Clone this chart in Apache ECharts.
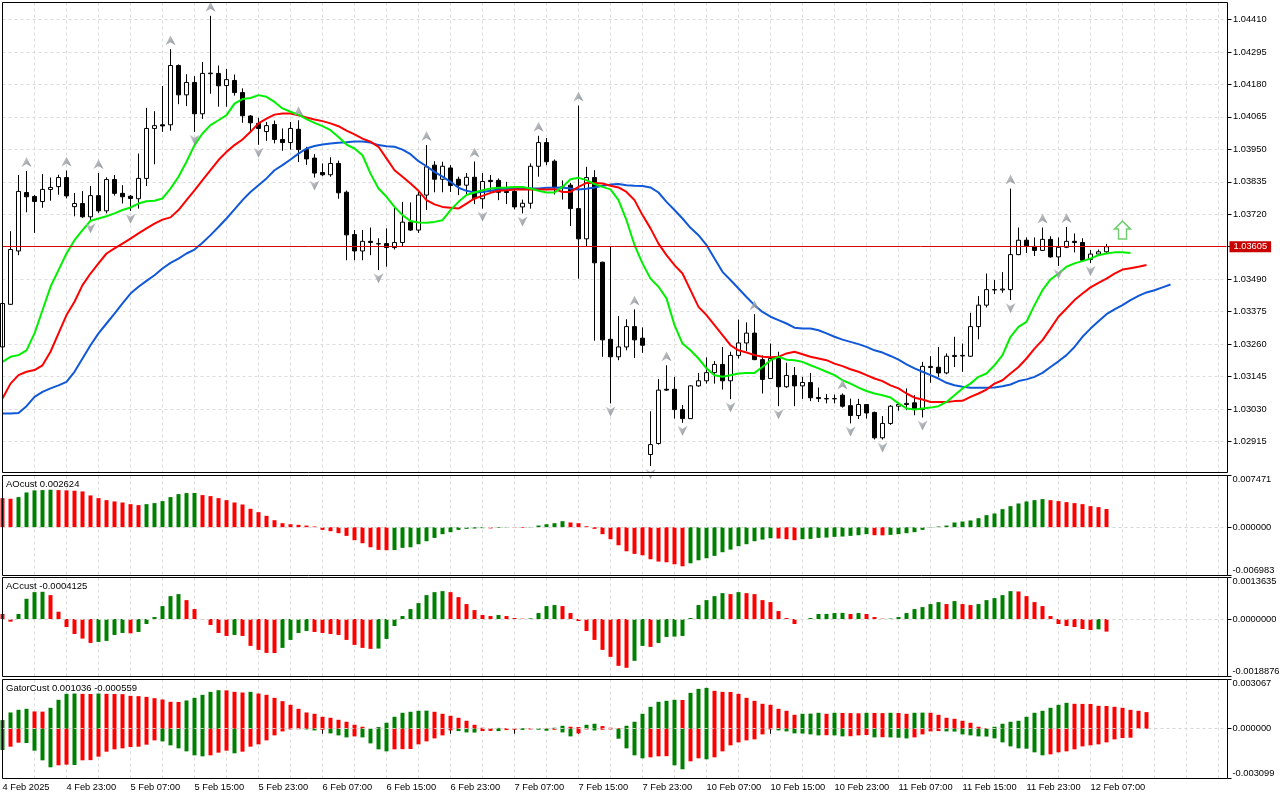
<!DOCTYPE html>
<html><head><meta charset="utf-8">
<script src="https://cdn.jsdelivr.net/npm/echarts@6.0.0/dist/echarts.min.js"></script>
<style>html,body{margin:0;padding:0;background:#fff;}#chart{width:1280px;height:800px;}</style>
</head><body><div id="chart"></div>
<script>
// ---------- data ----------
const timeLabels = ['4 Feb 2025','4 Feb 23:00','5 Feb 07:00','5 Feb 15:00','5 Feb 23:00','6 Feb 07:00','6 Feb 15:00','6 Feb 23:00','7 Feb 07:00','7 Feb 15:00','7 Feb 23:00','10 Feb 07:00','10 Feb 15:00','10 Feb 23:00','11 Feb 07:00','11 Feb 15:00','11 Feb 23:00','12 Feb 07:00'];
const slotCount = 154;   // bar slots on the time axis (incl. shifted indicator lines)
const labelEvery = 8;    // one time label every 8 hourly bars
const gridEvery = 4;     // one vertical grid line every 4 bars

const open = [1.03250,1.03401,1.03590,1.03797,1.03783,1.03765,1.03808,1.03818,1.03850,1.03747,
1.03758,1.03711,1.03786,1.03732,1.03843,1.03794,1.03784,1.03775,1.03847,1.04024,
1.04037,1.04037,1.04247,1.04143,1.04187,1.04076,1.04218,1.04219,1.04176,1.04194,
1.04151,1.04068,1.04042,1.04013,1.04038,1.03985,1.03974,1.04021,1.03949,1.03919,
1.03868,1.03860,1.03900,1.03798,1.03648,1.03590,1.03624,1.03615,1.03616,1.03602,
1.03620,1.03692,1.03664,1.03788,1.03894,1.03844,1.03884,1.03844,1.03823,1.03851,
1.03775,1.03840,1.03840,1.03801,1.03801,1.03746,1.03759,1.03890,1.03974,1.03908,
1.03817,1.03823,1.03740,1.03633,1.03850,1.03550,1.03277,1.03215,1.03250,1.03322,
1.03281,1.02869,1.02908,1.03100,1.03100,1.03028,1.02996,1.03112,1.03130,1.03159,
1.03188,1.03130,1.03220,1.03264,1.03299,1.03205,1.03138,1.03209,1.03109,1.03149,
1.03112,1.03124,1.03071,1.03067,1.03066,1.03079,1.03042,1.03007,1.03046,1.03018,
1.02928,1.02979,1.03040,1.03046,1.03052,1.03028,1.03177,1.03178,1.03158,1.03216,
1.03218,1.03217,1.03322,1.03398,1.03452,1.03452,1.03453,1.03577,1.03628,1.03606,
1.03592,1.03631,1.03569,1.03603,1.03624,1.03620,1.03560,1.03579,1.03587];
const high = [1.03410,1.03660,1.03859,1.03873,1.03788,1.03862,1.03850,1.03860,1.03875,1.03795,
1.03802,1.03820,1.03866,1.03851,1.03859,1.03823,1.03788,1.03935,1.04097,1.04085,
1.04174,1.04305,1.04251,1.04216,1.04209,1.04259,1.04423,1.04247,1.04235,1.04215,
1.04166,1.04071,1.04062,1.04047,1.04052,1.04024,1.04047,1.04053,1.03959,1.03933,
1.03900,1.03922,1.03910,1.03804,1.03664,1.03664,1.03673,1.03635,1.03670,1.03744,
1.03764,1.03762,1.03804,1.03965,1.03908,1.03906,1.03894,1.03853,1.03866,1.03907,
1.03866,1.03859,1.03847,1.03835,1.03817,1.03772,1.03900,1.03998,1.03990,1.03914,
1.03840,1.03831,1.04105,1.03888,1.03876,1.03552,1.03606,1.03359,1.03348,1.03383,
1.03319,1.03022,1.03136,1.03185,1.03144,1.03044,1.03114,1.03158,1.03213,1.03200,
1.03250,1.03233,1.03347,1.03337,1.03366,1.03220,1.03262,1.03233,1.03194,1.03179,
1.03144,1.03158,1.03106,1.03083,1.03081,1.03085,1.03067,1.03066,1.03047,1.03021,
1.03005,1.03044,1.03054,1.03103,1.03079,1.03197,1.03217,1.03250,1.03227,1.03286,
1.03262,1.03371,1.03430,1.03510,1.03487,1.03515,1.03811,1.03673,1.03638,1.03638,
1.03673,1.03642,1.03638,1.03675,1.03652,1.03635,1.03593,1.03595,1.03615];
const low = [1.03244,1.03399,1.03575,1.03727,1.03654,1.03743,1.03768,1.03789,1.03776,1.03713,
1.03707,1.03699,1.03725,1.03723,1.03786,1.03758,1.03732,1.03740,1.03820,1.03897,
1.04012,1.04016,1.04110,1.04103,1.04012,1.04058,1.04147,1.04101,1.04101,1.04140,
1.04044,1.04009,1.03966,1.03980,1.03971,1.03945,1.03949,1.03905,1.03895,1.03850,
1.03855,1.03853,1.03775,1.03557,1.03557,1.03557,1.03575,1.03522,1.03534,1.03595,
1.03607,1.03661,1.03654,1.03735,1.03798,1.03798,1.03799,1.03788,1.03790,1.03756,
1.03740,1.03798,1.03770,1.03756,1.03737,1.03723,1.03740,1.03853,1.03894,1.03790,
1.03772,1.03678,1.03492,1.03605,1.03272,1.03215,1.03050,1.03203,1.03238,1.03211,
1.03229,1.02828,1.02904,1.03094,1.02996,1.02981,1.02995,1.03109,1.03120,1.03120,
1.03099,1.03065,1.03209,1.03236,1.03203,1.03085,1.03137,1.03040,1.03105,1.03040,
1.03066,1.03058,1.03055,1.03050,1.03050,1.03035,1.02979,1.02995,1.02996,1.02922,
1.02922,1.02974,1.03024,1.03026,1.03008,1.03000,1.03123,1.03144,1.03153,1.03179,
1.03162,1.03215,1.03277,1.03390,1.03437,1.03442,1.03416,1.03575,1.03583,1.03572,
1.03590,1.03566,1.03537,1.03600,1.03585,1.03555,1.03547,1.03572,1.03583];
const close = [1.03404,1.03595,1.03801,1.03782,1.03765,1.03808,1.03815,1.03850,1.03785,1.03758,
1.03711,1.03786,1.03732,1.03843,1.03794,1.03782,1.03776,1.03847,1.04024,1.04034,
1.04033,1.04247,1.04143,1.04187,1.04076,1.04219,1.04220,1.04175,1.04197,1.04151,
1.04069,1.04044,1.04024,1.04034,1.03985,1.03974,1.04024,1.03949,1.03916,1.03866,
1.03860,1.03900,1.03796,1.03647,1.03590,1.03624,1.03620,1.03616,1.03602,1.03620,
1.03692,1.03664,1.03788,1.03888,1.03844,1.03890,1.03822,1.03823,1.03851,1.03775,
1.03836,1.03836,1.03798,1.03797,1.03746,1.03759,1.03890,1.03974,1.03906,1.03817,
1.03814,1.03740,1.03633,1.03850,1.03548,1.03275,1.03215,1.03250,1.03322,1.03275,
1.03256,1.02904,1.03097,1.03097,1.03028,1.02996,1.03112,1.03130,1.03159,1.03188,
1.03130,1.03220,1.03264,1.03299,1.03205,1.03135,1.03209,1.03109,1.03149,1.03112,
1.03124,1.03070,1.03067,1.03066,1.03067,1.03040,1.03007,1.03046,1.03016,1.02928,
1.02979,1.03040,1.03046,1.03050,1.03028,1.03181,1.03181,1.03158,1.03217,1.03220,
1.03220,1.03322,1.03398,1.03453,1.03453,1.03455,1.03577,1.03628,1.03608,1.03592,
1.03631,1.03569,1.03603,1.03624,1.03620,1.03557,1.03579,1.03587,1.03605];

const lips = [1.03197,1.03215,1.03221,1.03238,1.03298,1.03380,1.03463,1.03522,1.03581,1.03628,
1.03664,1.03697,1.03705,1.03713,1.03723,1.03735,1.03744,1.03758,1.03766,1.03768,
1.03776,1.03811,1.03853,1.03906,1.03965,1.04006,1.04036,1.04053,1.04071,1.04112,
1.04128,1.04132,1.04142,1.04136,1.04118,1.04095,1.04083,1.04073,1.04057,1.04044,
1.04032,1.04018,1.03994,1.03967,1.03953,1.03929,1.03864,1.03811,1.03782,1.03746,
1.03717,1.03696,1.03691,1.03690,1.03693,1.03699,1.03735,1.03764,1.03788,1.03797,
1.03805,1.03811,1.03814,1.03815,1.03817,1.03817,1.03811,1.03803,1.03797,1.03797,
1.03817,1.03844,1.03849,1.03841,1.03827,1.03817,1.03808,1.03770,1.03699,1.03611,
1.03546,1.03492,1.03463,1.03422,1.03327,1.03262,1.03238,1.03209,1.03174,1.03150,
1.03144,1.03150,1.03156,1.03158,1.03158,1.03179,1.03203,1.03215,1.03205,1.03203,
1.03197,1.03185,1.03174,1.03162,1.03150,1.03132,1.03120,1.03106,1.03094,1.03085,
1.03079,1.03071,1.03050,1.03032,1.03028,1.03032,1.03035,1.03040,1.03055,1.03079,
1.03103,1.03120,1.03144,1.03156,1.03185,1.03221,1.03286,1.03321,1.03339,1.03398,
1.03451,1.03489,1.03510,1.03534,1.03546,1.03554,1.03563,1.03575,1.03581,1.03585,
1.03585,1.03583];
const teeth = [1.03067,1.03120,1.03150,1.03162,1.03168,1.03185,1.03233,1.03298,1.03363,1.03410,
1.03469,1.03510,1.03546,1.03581,1.03599,1.03616,1.03634,1.03652,1.03670,1.03687,
1.03701,1.03709,1.03735,1.03770,1.03805,1.03841,1.03876,1.03912,1.03941,1.03965,
1.03985,1.04012,1.04042,1.04059,1.04073,1.04077,1.04077,1.04071,1.04063,1.04056,
1.04050,1.04042,1.04032,1.04016,1.04003,1.03988,1.03977,1.03959,1.03918,1.03876,
1.03853,1.03829,1.03803,1.03770,1.03755,1.03746,1.03743,1.03740,1.03758,1.03776,
1.03785,1.03796,1.03803,1.03805,1.03808,1.03808,1.03808,1.03808,1.03808,1.03809,
1.03799,1.03799,1.03817,1.03831,1.03831,1.03829,1.03821,1.03815,1.03799,1.03770,
1.03717,1.03670,1.03616,1.03575,1.03540,1.03510,1.03451,1.03392,1.03363,1.03327,
1.03292,1.03256,1.03238,1.03230,1.03221,1.03215,1.03213,1.03215,1.03227,1.03233,
1.03224,1.03215,1.03209,1.03203,1.03191,1.03182,1.03171,1.03162,1.03150,1.03138,
1.03129,1.03114,1.03103,1.03085,1.03070,1.03064,1.03055,1.03055,1.03055,1.03058,
1.03059,1.03073,1.03085,1.03099,1.03120,1.03132,1.03156,1.03179,1.03209,1.03244,
1.03274,1.03315,1.03357,1.03386,1.03416,1.03439,1.03461,1.03477,1.03492,1.03510,
1.03524,1.03529,1.03534,1.03540];
const jaw = [1.03014,1.03014,1.03016,1.03040,1.03073,1.03091,1.03103,1.03114,1.03126,1.03162,
1.03209,1.03256,1.03298,1.03333,1.03368,1.03404,1.03439,1.03463,1.03484,1.03504,
1.03528,1.03548,1.03563,1.03581,1.03595,1.03619,1.03646,1.03675,1.03705,1.03737,
1.03770,1.03799,1.03823,1.03847,1.03876,1.03894,1.03914,1.03935,1.03953,1.03962,
1.03967,1.03971,1.03973,1.03975,1.03978,1.03978,1.03974,1.03965,1.03961,1.03959,
1.03949,1.03933,1.03908,1.03890,1.03870,1.03853,1.03835,1.03814,1.03803,1.03797,
1.03799,1.03803,1.03808,1.03810,1.03811,1.03811,1.03811,1.03811,1.03814,1.03814,
1.03815,1.03811,1.03808,1.03810,1.03815,1.03821,1.03825,1.03827,1.03823,1.03821,
1.03820,1.03815,1.03797,1.03764,1.03735,1.03705,1.03672,1.03646,1.03611,1.03563,
1.03516,1.03487,1.03457,1.03427,1.03398,1.03374,1.03357,1.03345,1.03333,1.03318,
1.03315,1.03315,1.03309,1.03298,1.03286,1.03276,1.03268,1.03260,1.03250,1.03238,
1.03230,1.03218,1.03205,1.03188,1.03174,1.03162,1.03150,1.03138,1.03123,1.03114,
1.03109,1.03105,1.03105,1.03105,1.03106,1.03111,1.03117,1.03129,1.03135,1.03144,
1.03158,1.03179,1.03199,1.03221,1.03250,1.03286,1.03315,1.03341,1.03366,1.03383,
1.03398,1.03416,1.03431,1.03443,1.03451,1.03461,1.03471];

const fractalUp = [3,8,12,21,26,37,53,59,67,72,79,83,94,105,126,130,133];
const fractalDown = [11,16,24,32,39,47,60,65,76,81,85,91,97,106,110,115,126,132,136];
const signalUp = {index: 140, price: 1.03664};

const ao = [0.00420,0.00411,0.00435,0.00502,0.00532,0.00536,0.00541,0.00536,0.00532,0.00527,
0.00517,0.00459,0.00420,0.00391,0.00372,0.00357,0.00333,0.00319,0.00333,0.00348,
0.00377,0.00435,0.00478,0.00493,0.00495,0.00464,0.00449,0.00420,0.00391,0.00357,
0.00328,0.00266,0.00217,0.00164,0.00101,0.00058,0.00043,0.00034,0.00024,0.00010,
-0.00039,-0.00058,-0.00087,-0.00126,-0.00188,-0.00232,-0.00290,-0.00328,-0.00333,-0.00331,
-0.00299,-0.00290,-0.00246,-0.00203,-0.00155,-0.00101,-0.00072,-0.00039,-0.00024,-0.00019,
-0.00014,-0.00017,-0.00010,-0.00005,-0.00007,-0.00010,-0.00005,0.00024,0.00043,0.00058,
0.00087,0.00068,0.00058,0.00014,-0.00024,-0.00101,-0.00174,-0.00261,-0.00348,-0.00386,
-0.00406,-0.00464,-0.00497,-0.00507,-0.00536,-0.00565,-0.00522,-0.00478,-0.00449,-0.00415,
-0.00362,-0.00324,-0.00275,-0.00246,-0.00203,-0.00179,-0.00159,-0.00164,-0.00174,-0.00188,
-0.00174,-0.00169,-0.00155,-0.00150,-0.00140,-0.00135,-0.00126,-0.00116,-0.00101,-0.00116,
-0.00118,-0.00111,-0.00101,-0.00087,-0.00072,-0.00039,-0.00005,0.00010,0.00024,0.00068,
0.00082,0.00097,0.00130,0.00174,0.00198,0.00261,0.00304,0.00343,0.00372,0.00391,
0.00406,0.00391,0.00377,0.00362,0.00348,0.00333,0.00304,0.00290,0.002624];
const ac = [0.000164,-0.000087,0.000164,0.000665,0.000883,0.000894,0.000785,0.000240,-0.000262,-0.000491,
-0.000643,-0.000785,-0.000752,-0.000719,-0.000523,-0.000458,-0.000469,-0.000425,-0.000164,0.000065,
0.000425,0.000752,0.000818,0.000621,0.000327,-0.000011,-0.000196,-0.000458,-0.000556,-0.000523,
-0.000556,-0.000883,-0.001014,-0.001112,-0.001117,-0.000948,-0.000687,-0.000458,-0.000392,-0.000425,
-0.000458,-0.000491,-0.000523,-0.000687,-0.000850,-0.000948,-0.000981,-0.000970,-0.000654,-0.000229,
0.000098,0.000327,0.000523,0.000785,0.000883,0.000916,0.000883,0.000719,0.000491,0.000294,
0.000131,0.000098,0.000131,0.000098,0.000033,0.000011,0.000022,0.000196,0.000425,0.000458,
0.000425,0.000196,-0.000065,-0.000392,-0.000687,-0.001014,-0.001243,-0.001537,-0.001602,-0.001373,
-0.000883,-0.000916,-0.000785,-0.000589,-0.000578,-0.000556,0.000033,0.000458,0.000621,0.000752,
0.000850,0.000818,0.000883,0.000850,0.000818,0.000621,0.000556,0.000262,0.000033,-0.000164,
0.000000,0.000033,0.000164,0.000169,0.000196,0.000202,0.000164,0.000196,0.000164,0.000065,
0.000011,0.000016,0.000065,0.000196,0.000327,0.000392,0.000491,0.000556,0.000491,0.000589,
0.000491,0.000458,0.000491,0.000621,0.000687,0.000785,0.000916,0.000905,0.000752,0.000556,
0.000425,0.000098,-0.000164,-0.000229,-0.000262,-0.000327,-0.000360,-0.000338,-0.0004125];
const gatorUp = [0.000538,0.001014,0.001180,0.001242,0.001076,0.001066,0.001304,0.001801,0.002174,0.002194,
0.002174,0.002163,0.002194,0.002174,0.002163,0.002153,0.002049,0.002029,0.001987,0.001904,
0.001822,0.001677,0.001666,0.001760,0.001925,0.002111,0.002298,0.002401,0.002391,0.002298,
0.002256,0.002298,0.002194,0.002111,0.001925,0.001718,0.001490,0.001242,0.001014,0.000932,
0.000745,0.000683,0.000559,0.000435,0.000248,0.000124,0.000010,0.000104,0.000373,0.000745,
0.000994,0.001056,0.001118,0.001128,0.001056,0.000932,0.000807,0.000683,0.000497,0.000248,
0.000062,0.000041,0.000052,0.000041,0.000031,0.000041,0.000031,0.000041,0.000021,0.000062,
0.000186,0.000124,0.000104,0.000248,0.000311,0.000166,0.000062,0.000041,0.000186,0.000435,
0.000932,0.001366,0.001677,0.001739,0.001801,0.001791,0.002236,0.002484,0.002546,0.002360,
0.002298,0.002287,0.002174,0.001925,0.001739,0.001553,0.001490,0.001242,0.001118,0.000869,
0.000932,0.000942,0.000994,0.000932,0.000994,0.000983,0.000973,0.000963,0.000994,0.000983,
0.000973,0.000994,0.000983,0.000932,0.000994,0.001004,0.000994,0.000869,0.000683,0.000621,
0.000497,0.000373,0.000124,0.000041,0.000124,0.000311,0.000435,0.000497,0.000745,0.000994,
0.001118,0.001304,0.001490,0.001615,0.001553,0.001546,0.001542,0.001428,0.001418,0.001366,
0.001304,0.001180,0.001118,0.001036];
const gatorDown = [-0.001325,-0.001118,-0.000869,-0.000890,-0.001366,-0.001967,-0.002401,-0.002277,-0.002236,-0.002256,
-0.001967,-0.001956,-0.001739,-0.001428,-0.001283,-0.001221,-0.001139,-0.001118,-0.000994,-0.000725,
-0.000787,-0.001035,-0.001221,-0.001408,-0.001656,-0.001718,-0.001656,-0.001490,-0.001366,-0.001532,
-0.001428,-0.001118,-0.000973,-0.000725,-0.000414,-0.000166,-0.000041,-0.000031,-0.000041,-0.000104,
-0.000062,-0.000290,-0.000414,-0.000538,-0.000476,-0.000538,-0.000911,-0.001283,-0.001408,-0.001283,
-0.001273,-0.001263,-0.000973,-0.000787,-0.000600,-0.000414,-0.000104,-0.000145,-0.000228,-0.000238,
-0.000145,-0.000135,-0.000145,-0.000083,-0.000062,-0.000072,-0.000041,-0.000062,-0.000124,-0.000062,
-0.000228,-0.000476,-0.000290,-0.000041,-0.000104,-0.000062,-0.000041,-0.000621,-0.001221,-0.001656,
-0.001842,-0.001780,-0.001718,-0.001708,-0.002277,-0.002525,-0.002029,-0.001842,-0.001904,-0.001780,
-0.001408,-0.001035,-0.000849,-0.000725,-0.000662,-0.000352,-0.000041,-0.000104,-0.000166,-0.000290,
-0.000300,-0.000352,-0.000414,-0.000404,-0.000414,-0.000476,-0.000466,-0.000414,-0.000393,-0.000538,
-0.000528,-0.000538,-0.000559,-0.000600,-0.000538,-0.000352,-0.000166,-0.000145,-0.000166,-0.000176,
-0.000352,-0.000414,-0.000476,-0.000486,-0.000600,-0.000849,-0.001097,-0.001221,-0.001242,-0.001470,
-0.001656,-0.001594,-0.001470,-0.001408,-0.001283,-0.001097,-0.001035,-0.000973,-0.000849,-0.000662,
-0.000580,-0.000559];

const priceAxis = {min: 1.02800, max: 1.044702, step: 0.00115};
const aoRange = [-0.006983, 0.007471];
const acRange = [-0.0018876, 0.0013635];
const gatorRange = [-0.003099, 0.003067];

// ---------- build ----------
const FONT = '"Liberation Sans", Arial, sans-serif';
const FS = 9.3;
const GREEN = '#008000', RED = '#ff0000';
const cats = Array.from({length: slotCount}, (_, i) => String(i));
const lastPrice = close[close.length - 1];

function histColors(arr, first, isRed) {
  return arr.map((v, i) => i === 0 ? first : (isRed(v, arr[i - 1]) ? RED : GREEN));
}
const bars = (arr, cols) => arr.map((v, i) => ({value: v, itemStyle: {color: cols[i]}}));
const aoCols = histColors(ao, RED, (v, p) => v < p);
const acCols = histColors(ac, RED, (v, p) => v < p);
const upCols = histColors(gatorUp, GREEN, (v, p) => v < p);
const dnCols = histColors(gatorDown, GREEN, (v, p) => v > p);

const L = 2.5, W = 1224;
const gridBase = {left: L, width: W, show: false, containLabel: false, outerBoundsMode: 'none'};
const grids = [
  Object.assign({top: 2.5, height: 471.45}, gridBase),
  Object.assign({top: 475.5, height: 100}, gridBase),
  Object.assign({top: 577.5, height: 99}, gridBase),
  Object.assign({top: 679.5, height: 99}, gridBase)
];
const splitX = {show: true, interval: (i) => i % gridEvery === 0, lineStyle: {color: '#dcdcdc', type: [3, 3], width: 1}};
const isLabelSlot = (i) => i % labelEvery === 0 && i / labelEvery < timeLabels.length;
function xAx(gi, withLabels) {
  return {
    type: 'category', gridIndex: gi, data: cats, boundaryGap: false,
    axisLine: {show: false},
    axisTick: withLabels ? {show: true, interval: isLabelSlot, length: 5, lineStyle: {color: '#000'}} : {show: false},
    axisLabel: withLabels ? {show: true, interval: isLabelSlot, align: 'left', margin: 4, color: '#000',
      fontSize: FS, fontFamily: FONT, formatter: (v) => timeLabels[Number(v) / labelEvery] || ''} : {show: false},
    splitLine: splitX
  };
}
function subY(gi, range, dec) {
  const mn = range[0], mx = range[1];
  const st = {fontSize: FS, fontFamily: FONT, color: '#000'};
  return {
    type: 'value', gridIndex: gi, position: 'right', offset: 1, min: mn, max: mx,
    axisLine: {show: false},
    axisTick: {show: true, length: 4, customValues: [mn, 0, mx], lineStyle: {color: '#000'}},
    axisLabel: {show: true, customValues: [mn, 0, mx], margin: 5, color: '#000', fontSize: FS, fontFamily: FONT,
      formatter: (v) => Math.abs(v - mx) < 1e-12 ? '{t|' + mx.toFixed(dec) + '}' :
        (Math.abs(v - mn) < 1e-12 ? '{b|' + mn.toFixed(dec) + '}' : (0).toFixed(dec)),
      rich: {t: Object.assign({padding: [8, 0, 0, 0]}, st), b: Object.assign({padding: [0, 0, 11, 0]}, st)}},
    splitLine: {show: false}
  };
}
const zeroLine = {silent: true, symbol: ['none', 'none'], label: {show: false}, animation: false, precision: 8,
  lineStyle: {color: '#d6d6d6', type: [3, 3], width: 1}, data: [{yAxis: 0}]};
const arrowFill = {type: 'linear', x: 0, y: 0, x2: 1, y2: 1,
  colorStops: [{offset: 0, color: '#c4c8ce'}, {offset: 1, color: '#6e747c'}]};

const option = {
  animation: false,
  backgroundColor: '#ffffff',
  textStyle: {fontFamily: FONT},
  title: [
    {text: 'AOcust ' + ao[ao.length - 1].toFixed(6), left: 6, top: 479},
    {text: 'ACcust ' + ac[ac.length - 1].toFixed(7), left: 6, top: 581},
    {text: 'GatorCust ' + gatorUp[gatorUp.length - 1].toFixed(6) + ' ' + gatorDown[gatorDown.length - 1].toFixed(6), left: 6, top: 683}
  ].map(t => Object.assign({padding: 0, textStyle: {fontSize: FS + 0.2, fontWeight: 'normal', color: '#000', fontFamily: FONT}}, t)),
  grid: grids,
  xAxis: [xAx(0, false), xAx(1, false), xAx(2, false), xAx(3, true)],
  yAxis: [
    {type: 'value', gridIndex: 0, position: 'right', offset: 1,
      min: priceAxis.min, max: priceAxis.max, interval: priceAxis.step,
      axisLine: {show: false},
      axisTick: {show: true, length: 4, lineStyle: {color: '#000'}},
      axisLabel: {show: true, margin: 5.5, color: '#000', fontSize: FS, fontFamily: FONT,
        showMinLabel: false, showMaxLabel: false,
        formatter: (v) => Math.abs(v - lastPrice) < 1e-7 ? '' : v.toFixed(5)},
      splitLine: {show: true, showMinLine: false, showMaxLine: false, lineStyle: {color: '#dcdcdc', type: [3, 3], width: 1}}},
    subY(1, aoRange, 6), subY(2, acRange, 7), subY(3, gatorRange, 6)
  ],
  graphic: [
    {type: 'rect', z: 99, silent: true, shape: {x: 0, y: 473, width: 1236, height: 2}, style: {fill: '#fff'}},
    {type: 'rect', z: 100, silent: true, shape: {x: 2.5, y: 2.5, width: 1225, height: 470}, style: {fill: 'none', stroke: '#000', lineWidth: 1}},
    {type: 'rect', z: 100, silent: true, shape: {x: 2.5, y: 475.5, width: 1225, height: 100}, style: {fill: 'none', stroke: '#000', lineWidth: 1}},
    {type: 'rect', z: 100, silent: true, shape: {x: 2.5, y: 577.5, width: 1225, height: 99}, style: {fill: 'none', stroke: '#000', lineWidth: 1}},
    {type: 'rect', z: 100, silent: true, shape: {x: 2.5, y: 679.5, width: 1225, height: 99}, style: {fill: 'none', stroke: '#000', lineWidth: 1}}
  ],
  series: [
    {type: 'candlestick', xAxisIndex: 0, yAxisIndex: 0, z: 2, barWidth: 4,
      data: open.map((o, i) => [o, close[i], low[i], high[i]]),
      itemStyle: {color: '#ffffff', color0: '#000000', borderColor: '#000000', borderColor0: '#000000', borderColorDoji: '#000000', borderWidth: 1}},
    {type: 'line', xAxisIndex: 0, yAxisIndex: 0, z: 3, data: jaw, showSymbol: false, symbol: 'none', lineStyle: {color: '#1058d8', width: 2},
      markLine: {silent: true, symbol: ['none', 'none'], animation: false, precision: 5,
        lineStyle: {color: '#dd0000', type: 'solid', width: 1},
        emphasis: {disabled: true},
        label: {show: true, position: 'end', distance: 3, formatter: lastPrice.toFixed(5), color: '#fff',
          backgroundColor: '#c80000', padding: [0, 4, 0, 4], lineHeight: 11, fontSize: FS, fontFamily: FONT},
        data: [{yAxis: lastPrice, lineStyle: {color: '#dd0000'}}]}},
    {type: 'line', xAxisIndex: 0, yAxisIndex: 0, z: 3, data: teeth, showSymbol: false, symbol: 'none', lineStyle: {color: '#ff0000', width: 2}},
    {type: 'line', xAxisIndex: 0, yAxisIndex: 0, z: 3, data: lips, showSymbol: false, symbol: 'none', lineStyle: {color: '#00f000', width: 2}},
    {type: 'scatter', xAxisIndex: 0, yAxisIndex: 0, z: 4, clip: false,
      data: fractalUp.map(i => [i, high[i]]),
      symbol: 'path://M0,0 L5,10 L0,7 L-5,10 Z', symbolSize: [10, 10], symbolOffset: [0, -9],
      itemStyle: {color: arrowFill}},
    {type: 'scatter', xAxisIndex: 0, yAxisIndex: 0, z: 4, clip: false,
      data: fractalDown.map(i => [i, low[i]]),
      symbol: 'path://M0,10 L5,0 L0,3 L-5,0 Z', symbolSize: [10, 10], symbolOffset: [0, 8],
      itemStyle: {color: arrowFill}},
    {type: 'scatter', xAxisIndex: 0, yAxisIndex: 0, z: 4,
      data: [[signalUp.index, signalUp.price]],
      symbol: 'path://M0,0 L8,8 L4,8 L4,18 L-4,18 L-4,8 L-8,8 Z', symbolSize: [16, 18],
      itemStyle: {color: '#ffffff', borderColor: '#4cc24c', borderWidth: 1.5}},
    {type: 'bar', xAxisIndex: 1, yAxisIndex: 1, barWidth: 4, data: bars(ao, aoCols), markLine: zeroLine},
    {type: 'bar', xAxisIndex: 2, yAxisIndex: 2, barWidth: 4, data: bars(ac, acCols), markLine: zeroLine},
    {type: 'bar', xAxisIndex: 3, yAxisIndex: 3, barWidth: 4, barGap: '-100%', data: bars(gatorUp, upCols), markLine: zeroLine},
    {type: 'bar', xAxisIndex: 3, yAxisIndex: 3, barWidth: 4, barGap: '-100%', data: bars(gatorDown, dnCols)}
  ]
};
const chart = echarts.init(document.getElementById('chart'), null, {renderer: 'canvas'});
chart.setOption(option);
</script></body></html>
